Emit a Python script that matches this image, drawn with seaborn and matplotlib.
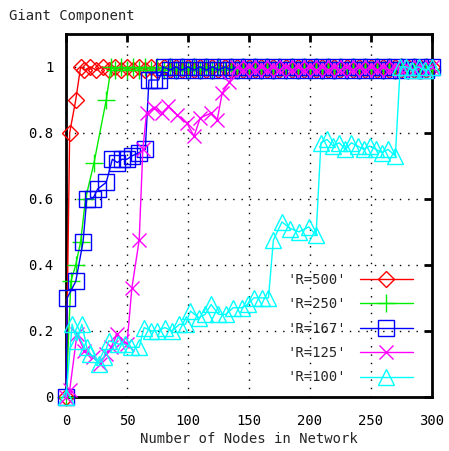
import numpy as np
import pandas as pd
import seaborn as sns
import matplotlib.pyplot as plt

# Giant component size vs. number of nodes, for several radio ranges
x_500 = [0, 3, 8, 12, 15, 20, 25, 30, 35, 40, 45, 50, 55, 60, 65, 70, 75, 80, 85, 90,
         95, 100, 105, 110, 115, 120, 125, 130, 135, 140, 145, 150, 155, 160, 165, 170,
         175, 180, 185, 190, 195, 200, 205, 210, 215, 220, 225, 230, 235, 240, 245, 250,
         255, 260, 265, 270, 275, 280, 285, 290, 295, 300]
y_500 = [0, 0.8, 0.9, 1.0, 0.99, 1.0, 0.99, 1.0, 0.99, 1.0, 0.99, 1.0, 0.99, 1.0, 0.99, 1.0,
         0.99, 1.0, 0.99, 1.0, 0.99, 1.0, 0.99, 1.0, 0.99, 1.0, 0.99, 1.0, 0.99, 1.0, 0.99,
         1.0, 0.99, 1.0, 0.99, 1.0, 0.99, 1.0, 0.99, 1.0, 0.99, 1.0, 0.99, 1.0, 0.99, 1.0,
         0.99, 1.0, 0.99, 1.0, 0.99, 1.0, 0.99, 1.0, 0.99, 1.0, 0.99, 1.0, 0.99, 1.0, 0.99, 1.0]

x_250 = [0, 4, 8, 12, 16, 23, 33, 37, 40, 45, 50, 55, 60, 65, 70, 75, 80, 85, 90, 95, 100,
         105, 110, 115, 120, 125, 130, 135, 140, 145, 150, 155, 160, 165, 170, 175, 180, 185,
         190, 195, 200, 205, 210, 215, 220, 225, 230, 235, 240, 245, 250, 255, 260, 265, 270,
         275, 280, 285, 290, 295, 300]
y_250 = [0, 0.35, 0.4, 0.47, 0.6, 0.71, 0.9, 1.0, 0.99, 1.0, 0.99, 1.0, 0.99, 1.0, 0.99, 1.0,
         0.99, 1.0, 0.99, 1.0, 0.99, 1.0, 0.99, 1.0, 0.99, 1.0, 0.99, 1.0, 0.99, 1.0, 0.99,
         1.0, 0.99, 1.0, 0.99, 1.0, 0.99, 1.0, 0.99, 1.0, 0.99, 1.0, 0.99, 1.0, 0.99, 1.0,
         0.99, 1.0, 0.99, 1.0, 0.99, 1.0, 0.99, 1.0, 0.99, 1.0, 0.99, 1.0, 0.99, 1.0, 0.99]

x_167 = [0, 1, 8, 14, 17, 22, 26, 33, 38, 42, 46, 50, 54, 60, 65, 68, 72, 76, 80, 85, 90,
         95, 100, 105, 110, 115, 120, 125, 130, 135, 140, 145, 150, 155, 160, 165, 170, 175,
         180, 185, 190, 195, 200, 205, 210, 215, 220, 225, 230, 235, 240, 245, 250, 255, 260,
         265, 270, 275, 280, 285, 290, 295, 300]
y_167 = [0, 0.30, 0.35, 0.47, 0.6, 0.6, 0.63, 0.65, 0.72, 0.71, 0.72, 0.72, 0.73, 0.74, 0.75,
         0.96, 0.96, 0.96, 1.0, 0.99, 1.0, 0.99, 1.0, 0.99, 1.0, 0.99, 1.0, 0.99, 1.0, 0.99,
         1.0, 0.99, 1.0, 0.99, 1.0, 0.99, 1.0, 0.99, 1.0, 0.99, 1.0, 0.99, 1.0, 0.99, 1.0,
         0.99, 1.0, 0.99, 1.0, 0.99, 1.0, 0.99, 1.0, 0.99, 1.0, 0.99, 1.0, 0.99, 1.0, 0.99,
         1.0, 0.99, 1.0]

x_125 = [0, 3, 9, 15, 22, 28, 33, 37, 42, 46, 50, 54, 60, 63, 66, 72, 79, 84, 91, 99, 105,
         110, 119, 124, 128, 134, 140, 145, 150, 155, 160, 165, 170, 175, 180, 185, 190, 195,
         200, 205, 210, 215, 220, 225, 230, 235, 240, 245, 250, 255, 260, 265, 270, 275, 280,
         285, 290, 295, 300]
y_125 = [0, 0.02, 0.19, 0.14, 0.12, 0.1, 0.13, 0.15, 0.19, 0.17, 0.16, 0.33, 0.475, 0.75,
         0.86, 0.875, 0.86, 0.88, 0.855, 0.83, 0.79, 0.845, 0.86, 0.84, 0.92, 0.955, 1.0, 0.99,
         1.0, 0.99, 1.0, 0.99, 1.0, 0.99, 1.0, 0.99, 1.0, 0.99, 1.0, 0.99, 1.0, 0.99, 1.0,
         0.99, 1.0, 0.99, 1.0, 0.99, 1.0, 0.99, 1.0, 0.99, 1.0, 0.99, 1.0, 0.99, 1.0, 0.99, 1.0]

x_100 = [0, 5, 9, 13, 17, 20, 27, 31, 35, 43, 48, 53, 60, 64, 70, 75, 81, 87, 93, 98, 102,
         109, 114, 119, 125, 131, 137, 144, 149, 154, 161, 166, 170, 177, 184, 191, 199, 205,
         209, 214, 219, 224, 229, 234, 239, 244, 249, 254, 259, 264, 270, 274, 279, 284, 289,
         294, 300]
y_100 = [0, 0.22, 0.17, 0.22, 0.15, 0.13, 0.1, 0.12, 0.17, 0.16, 0.16, 0.15, 0.15, 0.21, 0.2,
         0.2, 0.21, 0.2, 0.22, 0.22, 0.26, 0.24, 0.25, 0.28, 0.25, 0.25, 0.27, 0.27, 0.28, 0.3,
         0.3, 0.3, 0.475, 0.53, 0.51, 0.5, 0.515, 0.49, 0.77, 0.78, 0.76, 0.77, 0.75, 0.77,
         0.76, 0.75, 0.76, 0.75, 0.74, 0.75, 0.73, 1.0, 1.0, 0.99, 1.0, 0.99, 1.0]

series = [
    ("'R=500'", x_500, y_500, "#ff0000", "D", 8.5),
    ("'R=250'", x_250, y_250, "#00ee00", "+", 13),
    ("'R=167'", x_167, y_167, "#0000ff", "s", 11),
    ("'R=125'", x_125, y_125, "#ff00ff", "x", 10),
    ("'R=100'", x_100, y_100, "#00ffff", "^", 12),
]

sns.set_style("white")
plt.rcParams['font.family'] = ['DejaVu Sans Mono', 'DejaVu Sans']

fig = plt.figure(figsize=(4.49, 4.51), dpi=100)
ax = fig.add_axes([0.147, 0.12, 0.815, 0.805])

for label, xs, ys, col, mk, ms in series:
    df = pd.DataFrame({"nodes": xs, "giant": ys})
    sns.lineplot(data=df, x="nodes", y="giant", ax=ax, color=col, marker=mk,
                 markersize=ms, markerfacecolor="none", markeredgecolor=col,
                 markeredgewidth=1.0, linewidth=1.0, estimator=None, label=label,
                 clip_on=False)

ax.set_xlim(0, 300)
ax.set_ylim(0, 1.1)
ax.set_xticks([0, 50, 100, 150, 200, 250, 300])
ax.set_yticks([0, 0.2, 0.4, 0.6, 0.8, 1.0])
ax.set_yticklabels(["0", "0.2", "0.4", "0.6", "0.8", "1"])
ax.grid(True, color="black", linestyle=(0, (1, 5)), linewidth=1)
ax.tick_params(direction="in", length=6, width=2, top=True, right=True,
               labelsize=10, colors="black")
ax.tick_params(axis="x", pad=12)
ax.tick_params(axis="y", pad=9)
for sp in ax.spines.values():
    sp.set_linewidth(2)
    sp.set_color("black")
    sp.set_zorder(1)

ax.set_xlabel("Number of Nodes in Network", fontsize=10, labelpad=3)
ax.set_ylabel("")
fig.text(0.02, 0.965, "Giant Component", fontsize=10, ha="left", va="center")

ax.legend(loc="lower right", bbox_to_anchor=(0.982, 0.0), frameon=False, markerfirst=False,
          handlelength=3.8, fontsize=10, labelspacing=0.75, handletextpad=1.0)

fig.savefig("out.png", dpi=100)
